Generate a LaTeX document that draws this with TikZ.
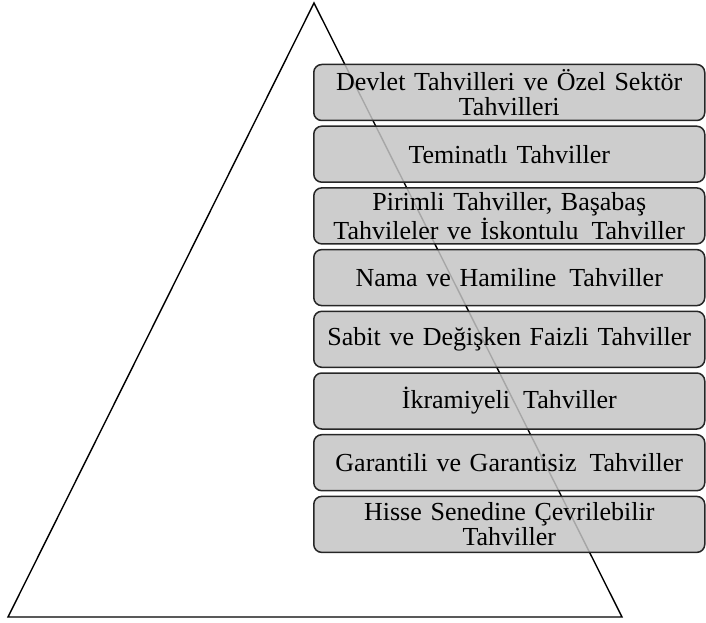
\documentclass[tikz,border=0pt]{standalone}
\usepackage{fontspec}
\setmainfont{Liberation Serif}
\usepackage{tikz}
\usetikzlibrary{positioning}
\definecolor{boxgray}{RGB}{196,196,196}
\tikzset{
  edge/.style={line width=1.4pt,line join=miter},
  layer/.style={draw=black!85,line width=1.5pt,fill=boxgray,fill opacity=0.85,text opacity=1,
    rounded corners=8pt,minimum width=391pt,minimum height=56pt,inner sep=0pt,
    text width=389pt,align=center,anchor=west,font=\fontsize{26}{24}\selectfont},
}

\begin{document}
\begin{tikzpicture}[x=1pt,y=-1pt]
  \useasboundingbox (0,0) rectangle (706,623);
  % pyramid
  \coordinate (apex) at (314,3);
  \coordinate (bl) at (8,617);
  \coordinate (br) at (622,617);
  \draw[edge] (apex) -- (br) -- (bl) -- cycle;
  % bond types
  \foreach \t [count=\n from 0] in {
    {Devlet Tahvilleri ve Özel Sektör\\[1pt]Tahvilleri},
    {Teminatlı Tahviller},
    {Pirimli Tahviller, Başabaş\\[1pt]Tahvileler ve İskontulu\,\ Tahviller},
    {Nama ve Hamiline\,\ Tahviller},
    {Sabit ve Değişken Faizli Tahviller},
    {İkramiyeli\,\ Tahviller},
    {Garantili ve Garantisiz\,\ Tahviller},
    {Hisse Senedine Çevrilebilir\\[1pt]Tahviller}}{
    \pgfmathsetmacro{\y}{92.5+\n*61.7}
    \node[layer] (b\n) at (313,\y) {\t};
  }
\end{tikzpicture}
\end{document}
